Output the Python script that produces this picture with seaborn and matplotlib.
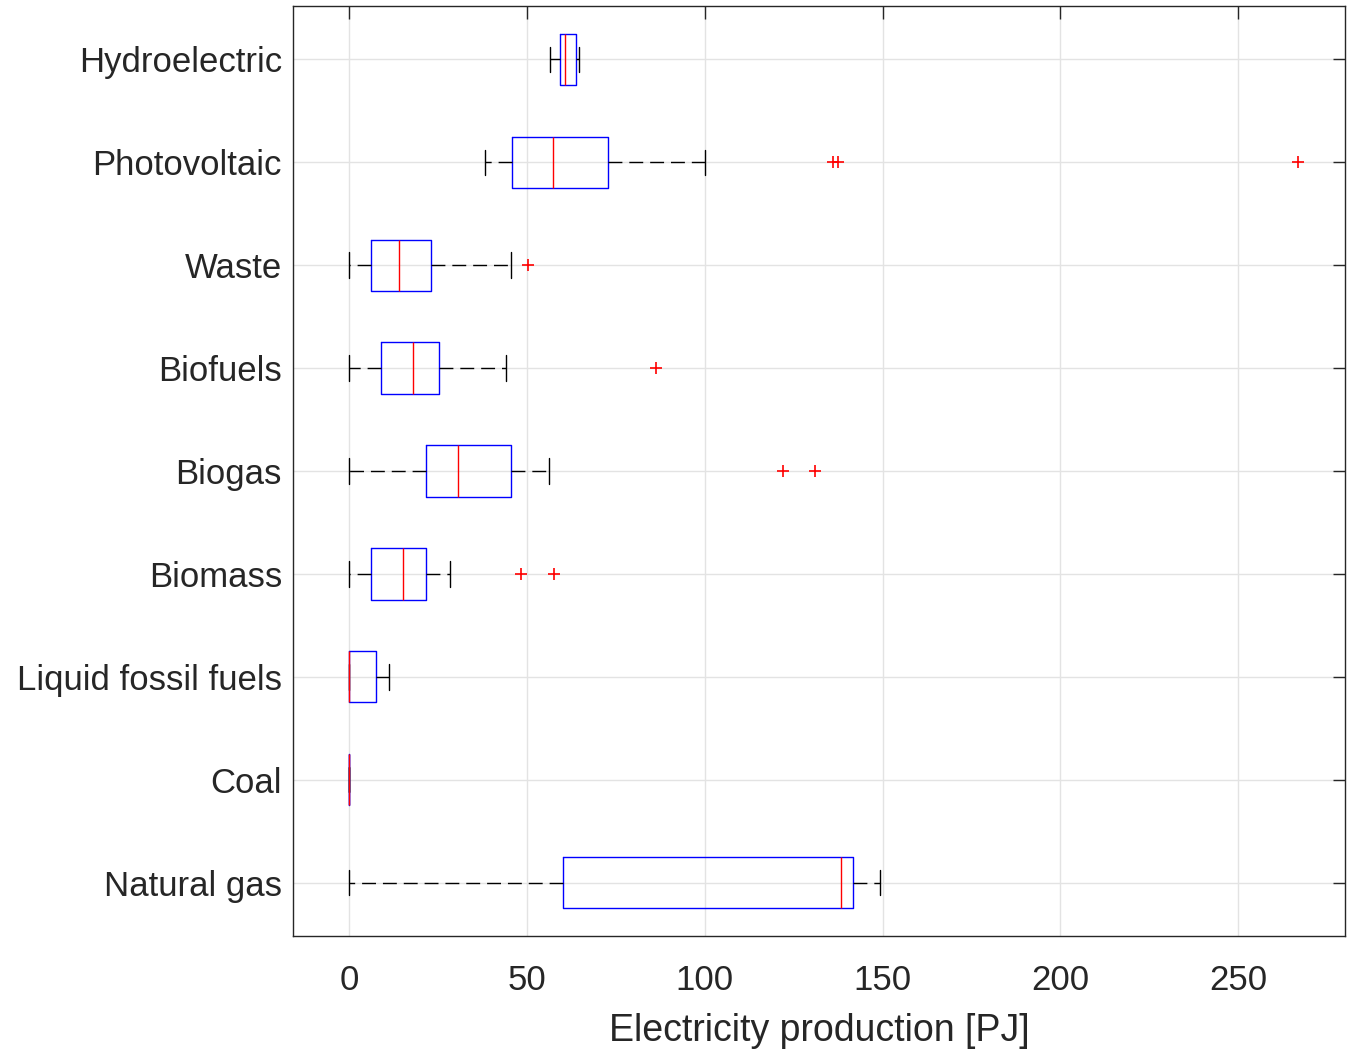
import numpy as np
import pandas as pd
import matplotlib
matplotlib.use("Agg")
import matplotlib.pyplot as plt
import seaborn as sns

# categories, top to bottom
sources = ["Hydroelectric", "Photovoltaic", "Waste", "Biofuels", "Biogas",
           "Biomass", "Liquid fossil fuels", "Coal", "Natural gas"]

hydro = [56.5, 59.3, 60.6, 63.9, 64.6]
photovoltaic = [38.2, 40.5, 43.0, 44.6, 45.8, 49.0, 52.5, 55.0, 57.3,
                61.0, 65.5, 69.8, 72.7, 100.2, 136.1, 137.5, 266.9]
waste = [0.0, 3.0, 6.3, 10.5, 14.0, 18.0, 23.1, 45.6, 50.2]
biofuels = [0.0, 5.0, 9.1, 13.5, 18.1, 22.0, 25.4, 44.0, 86.2]
biogas = [0.0, 8.0, 15.0, 21.5, 24.5, 27.5, 30.6, 35.0, 40.0, 45.4, 56.1, 122.0, 131.0]
biomass = [0.0, 2.0, 4.0, 6.2, 9.0, 12.0, 15.3, 17.5, 19.5, 21.7, 28.4, 48.4, 57.7]
liquid_fossil = [0.0, 0.0, 0.0, 7.6, 11.2]
coal = [0.0, 0.0, 0.0, 0.0, 0.0]
natural_gas = [0.0, 60.2, 138.4, 141.7, 149.2]

values = [hydro, photovoltaic, waste, biofuels, biogas, biomass,
          liquid_fossil, coal, natural_gas]

rows = []
for src, vals in zip(sources, values):
    for v in vals:
        rows.append({"source": src, "value": v})
df = pd.DataFrame(rows)

sns.set_style("white")
plt.rcParams["font.family"] = ["Liberation Sans", "DejaVu Sans"]

fig = plt.figure(figsize=(13.48, 10.51), dpi=100)
ax = fig.add_axes([293 / 1348, 1 - 936 / 1051, (1345 - 293) / 1348, (936 - 6) / 1051])

sns.boxplot(data=df, x="value", y="source", order=sources, orient="y",
            width=0.5, whis=1.5, fill=False, linewidth=1.0, ax=ax,
            boxprops=dict(color="blue", linewidth=1.0),
            medianprops=dict(color="red", linewidth=1.0),
            whiskerprops=dict(color="black", linestyle=(0, (10, 5)), linewidth=1.0),
            capprops=dict(color="black", linewidth=1.0),
            flierprops=dict(marker="+", markeredgecolor="red", markerfacecolor="red",
                            markersize=9, markeredgewidth=1.2, linestyle="none"))

ax.set_xlim(-15.75, 280)
ax.set_ylim(8.52, -0.52)
ax.set_xticks([0, 50, 100, 150, 200, 250])
ax.grid(True, color="#e3e3e3", linewidth=1.0)
ax.set_axisbelow(True)
ax.tick_params(axis="both", direction="in", length=9, width=1.0, colors="#262626",
               labelsize=25, top=True, right=True)
ax.tick_params(axis="x", pad=20)
ax.tick_params(axis="y", pad=8)
for s in ax.spines.values():
    s.set_color("#262626")
    s.set_linewidth(1.0)
ax.set_ylabel("")
ax.set_xlabel("Electricity production [PJ]", fontsize=27, color="#262626", labelpad=12)

fig.savefig("out.png", dpi=100)
